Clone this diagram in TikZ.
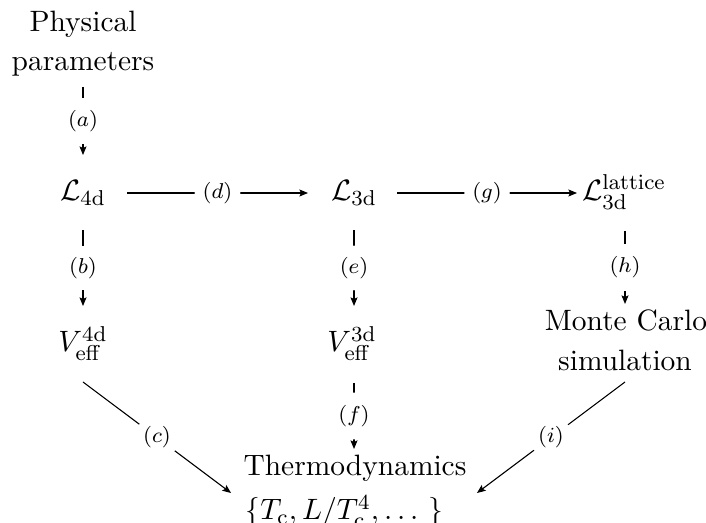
\documentclass[tikz,border=0pt]{standalone}
\usetikzlibrary{arrows.meta,calc}
\begin{document}
\begin{tikzpicture}[x=0.3717pt,y=-0.3717pt,
  font=\fontsize{10.95}{14.5}\selectfont,
  obj/.style={inner sep=0pt, anchor=base},
  arr/.style={line width=0.4pt, -{Stealth[length=3.2pt,width=2.6pt,inset=0.6pt]}},
  lab/.style={circle, fill=white, inner sep=1.2pt, font=\fontsize{8}{9.5}\selectfont}]
\useasboundingbox (0,0) rectangle (706,523);
% objects
\node[obj] (pp1) at (83,32) {Physical};
\node[obj] (pp2) at (83,71) {parameters};
\node[obj] (L4d) at (83,200.5) {$\mathcal{L}_{\rm 4d}$};
\node[obj] (L3d) at (354,200.5) {$\mathcal{L}_{\rm 3d}$};
\node[obj] (Llat) at (624,200.5) {$\mathcal{L}_{\rm 3d}^{\rm lattice}$};
\node[obj] (V4d) at (83,352) {$V_{\rm eff}^{\rm 4d}$};
\node[obj] (V3d) at (352,352) {$V_{\rm eff}^{\rm 3d}$};
\node[obj] (MC1) at (626,331) {Monte Carlo};
\node[obj] (MC2) at (625,371) {simulation};
\node[obj] (TD1) at (355,476) {Thermodynamics};
\node[obj, anchor=base west] (TD2) at (245,520) {$\{T_{\rm c}, L/T_{\rm c}^4, \dots\ \}$};
% connectors
\draw[arr] ($(pp2.base)+(0,16)$) -- node[lab]{$(a)$} ($(L4d.base)+(0,-45.5)$);
\draw[arr] ($(L4d.base)+(0,29.5)$) -- node[lab]{$(b)$} ($(V4d.base)+(0,-46)$);
\draw[arr] ($(V4d.base)+(0,30)$) -- node[lab]{$(c)$} ($(TD1.base west)+(-12,17)$);
\draw[arr] ($(L4d.base)+(44,-7.5)$) -- node[lab]{$(d)$} ($(L3d.base)+(-46,-7.5)$);
\draw[arr] ($(L3d.base)+(0,29.5)$) -- node[lab]{$(e)$} ($(V3d.base)+(2,-46)$);
\draw[arr] ($(V3d.base)+(2,31)$) -- node[lab]{$(f)$} ($(TD1.base)+(-1,-27)$);
\draw[arr] ($(L3d.base)+(43,-7.5)$) -- node[lab]{$(g)$} ($(Llat.base)+(-47,-7.5)$);
\draw[arr] ($(Llat.base)+(1,30.5)$) -- node[lab]{$(h)$} ($(MC1.base)+(-1,-27)$);
\draw[arr] ($(MC2.base)+(0,11)$) -- node[lab]{$(i)$} ($(TD1.base east)+(10,17)$);
\end{tikzpicture}
\end{document}
